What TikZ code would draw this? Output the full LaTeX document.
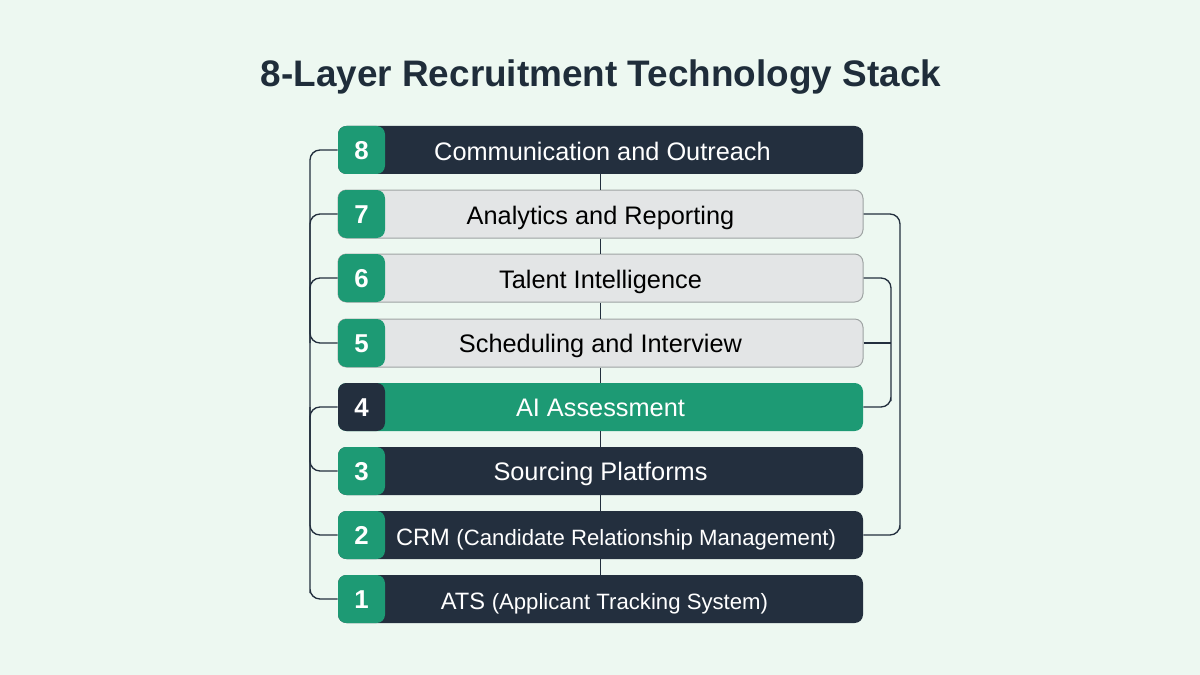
\documentclass[tikz,border=0pt]{standalone}
\usepackage{fontspec}
\setmainfont{Liberation Sans}
\definecolor{bgc}{HTML}{EDF8F1}
\definecolor{navy}{HTML}{232F3E}
\definecolor{teal}{HTML}{1D9A74}
\definecolor{lgray}{HTML}{E3E5E6}
\definecolor{edgeg}{HTML}{9EA3A3}
\definecolor{titlec}{HTML}{1F2D3A}
\newdimen\pxu
\pxu=0.6pt
\tikzset{
  barbase/.style={rounded corners=5pt,minimum width=525\pxu,minimum height=48\pxu,inner sep=0pt,anchor=center},
  numbox/.style={rounded corners=5pt,minimum width=47\pxu,minimum height=48\pxu,inner sep=0pt},
  digit/.style={font=\fontsize{15.5}{20}\selectfont\bfseries,text=white,inner sep=0pt,anchor=base},
  darkbar/.style={barbase,fill=navy},
  lightbar/.style={barbase,fill=lgray,draw=edgeg,line width=.6pt},
  greenbar/.style={barbase,fill=teal},
  lab/.style={font=\fontsize{15.2}{20}\selectfont,inner sep=0pt,anchor=base},
  wire/.style={draw=navy,line width=.8pt,rounded corners=6pt},
}
\begin{document}
\begin{tikzpicture}[x=0.6pt,y=-0.6pt]
\fill[bgc] (0,0) rectangle (1200,675);
\useasboundingbox (0,0) rectangle (1200,675);
\node[font=\fontsize{22.15}{28}\selectfont\bfseries,text=titlec,inner sep=0pt,anchor=base] (title) at (601,87) {8-Layer Recruitment Technology Stack};
\node[darkbar]  (b8) at (600.5,150) {};
\node[lightbar] (b7) at (600.5,214) {};
\node[lightbar] (b6) at (600.5,278) {};
\node[lightbar] (b5) at (600.5,343) {};
\node[greenbar] (b4) at (600.5,407) {};
\node[darkbar]  (b3) at (600.5,471) {};
\node[darkbar]  (b2) at (600.5,535) {};
\node[darkbar]  (b1) at (600.5,599) {};
\foreach \u/\l in {8/7,7/6,6/5,5/4,4/3,3/2,2/1}{\draw[navy,line width=.8pt] (b\u.south) -- (b\l.north);}
\foreach \n/\f in {8/teal,7/teal,6/teal,5/teal,4/navy,3/teal,2/teal,1/teal}{
  \node[numbox,fill=\f] (n\n) at (361.5,0 |- b\n) {};
}
\foreach \n/\y in {8/159,7/223,6/287,5/352,4/416,3/480,2/544,1/608}{
  \node[digit] (g\n) at (361.5,\y) {\n};
}
% left bus
\coordinate (la) at (310,0);
\draw[wire] (n8.west) -| (la |- n1.west) |- (n1.west);
\draw[wire] (n7.west) -| (la |- n6.west);
\draw[wire] (n6.west) -| (la |- n5.west);
\draw[wire] (n5.west) -| (la |- n6.west);
\draw[wire] (n4.west) -| (la |- n3.west);
\draw[wire] (n3.west) -| (la |- n4.west);
\draw[wire] (n2.west) -| (la |- n3.west);
% right brackets
\coordinate (ra) at (891,0);
\coordinate (rb) at (900,0);
\draw[wire] (b6.east) -| (ra |- b4.east) |- (b4.east);
\draw[wire] (b5.east) -- (ra |- b5.east);
\draw[wire] (b7.east) -| (rb |- b2.east) |- (b2.east);
% labels
\node[lab,text=white] (t8) at (602.5,160) {Communication and Outreach};
\node[lab,text=black] (t7) at (600.5,224) {Analytics and Reporting};
\node[lab,text=black] (t6) at (600.5,288) {Talent Intelligence};
\node[lab,text=black] (t5) at (600.5,352) {Scheduling and Interview};
\node[lab,text=white] (t4) at (600.5,416) {AI Assessment};
\node[lab,text=white] (t3) at (600.5,480) {Sourcing Platforms};
\node[lab,text=white,font=\fontsize{14.2}{20}\selectfont] (t2) at (616,545) {CRM {\fontsize{13.3}{20}\selectfont (Candidate Relationship Management)}};
\node[lab,text=white,font=\fontsize{14.2}{20}\selectfont] (t1) at (604.5,609) {ATS {\fontsize{13.3}{20}\selectfont (Applicant Tracking System)}};
\end{tikzpicture}
\end{document}
